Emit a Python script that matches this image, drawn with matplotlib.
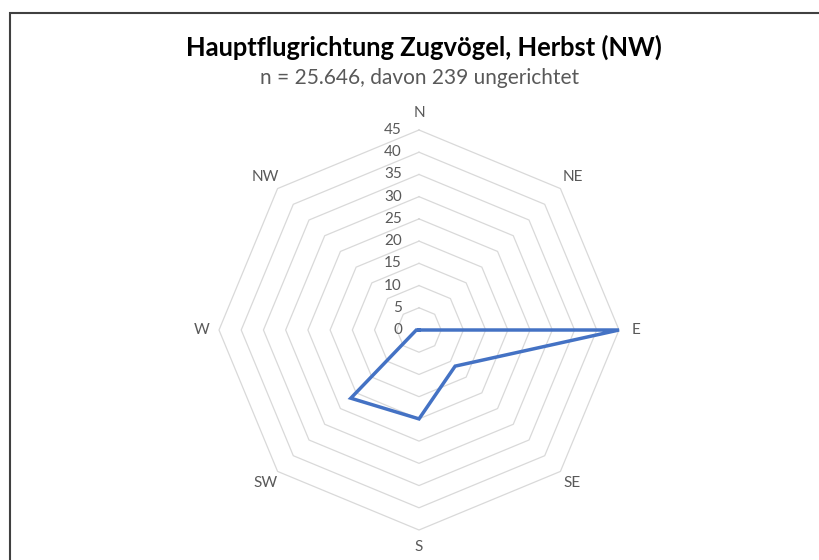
import numpy as np
import matplotlib
matplotlib.use("Agg")
import matplotlib.pyplot as plt
from matplotlib.transforms import ScaledTranslation
from matplotlib.patches import Rectangle

directions = ["N", "NE", "E", "SE", "S", "SW", "W", "NW"]
values = [0, 0, 45, 11.5, 20, 21.7, 0.6, 0]
ring_values = [0, 5, 10, 15, 20, 25, 30, 35, 40, 45]
title = "Hauptflugrichtung Zugvögel, Herbst (NW)"
subtitle = "n = 25.646, davon 239 ungerichtet"

W, H = 820, 560
fig = plt.figure(figsize=(W / 100, H / 100), dpi=100)
plt.rcParams['font.family'] = ['Lato', 'DejaVu Sans']

# outer border (Excel chart area frame, extending past the right/bottom edge)
fig.patches.append(Rectangle((10 / W, -0.1), 1.2, (H - 13) / H + 0.1, transform=fig.transFigure,
                             fill=False, edgecolor="#404040", linewidth=1.5))

cx, cy, R = 419, 330, 200
ax = fig.add_axes([(cx - R) / W, (H - cy - R) / H, 2 * R / W, 2 * R / H], projection="polar")
ax.set_theta_zero_location("N")
ax.set_theta_direction(-1)
ax.set_ylim(0, 45)
ax.grid(False)
ax.spines["polar"].set_visible(False)
ax.set_xticks([])
ax.set_yticks([])
ax.patch.set_alpha(0)

n = len(directions)
angles = np.arange(n) * 2 * np.pi / n
closed = np.append(angles, angles[0])

for r in ring_values[1:]:
    ax.plot(closed, [r] * (n + 1), color="#D9D9D9", lw=0.9, zorder=1, clip_on=False)

ax.plot(closed, values + [values[0]], color="#4472C4", lw=2.5, zorder=3,
        solid_joinstyle="miter", clip_on=False)

lab_color = "#595959"
off = ax.transData + ScaledTranslation(-0.17, 0, fig.dpi_scale_trans)
for r in ring_values:
    ax.text(0, r, str(r), transform=off, ha="right", va="center",
            fontsize=11, color=lab_color)

for a, d in zip(angles, directions):
    ax.text(a, 48.8, d, ha="center", va="center", fontsize=11, color=lab_color, clip_on=False)

fig.text(424 / W, 1 - 47 / H, title, ha="center", va="center", fontsize=18.4,
         fontweight="bold", color="black")
fig.text(420 / W, 1 - 78 / H, subtitle, ha="center", va="center", fontsize=15,
         color=lab_color)

fig.savefig("out.png", dpi=100)
